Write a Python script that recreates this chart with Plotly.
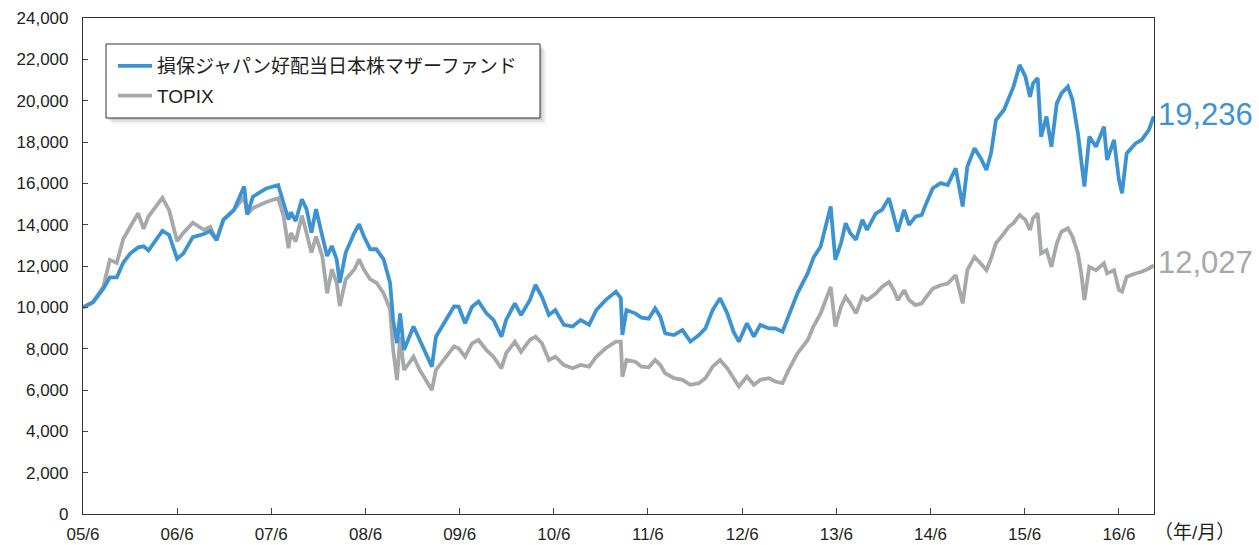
import plotly.graph_objects as go

dates = [
    "2005-06-01", "2005-07-10", "2005-08-19", "2005-09-13", "2005-10-10", "2005-11-04",
    "2005-12-01", "2006-01-01", "2006-01-22", "2006-02-10", "2006-04-05", "2006-05-01",
    "2006-06-01", "2006-06-25", "2006-08-01", "2006-09-13", "2006-10-07", "2006-11-01",
    "2006-11-28", "2007-01-07", "2007-02-16", "2007-02-28", "2007-03-22", "2007-05-13",
    "2007-06-28", "2007-07-19", "2007-08-07", "2007-08-16", "2007-09-04", "2007-09-28",
    "2007-10-16", "2007-11-04", "2007-11-22", "2007-12-16", "2008-01-04", "2008-01-22",
    "2008-02-10", "2008-02-22", "2008-03-16", "2008-04-19", "2008-05-07", "2008-05-25",
    "2008-06-19", "2008-07-13", "2008-08-10", "2008-09-04", "2008-09-16", "2008-10-01",
    "2008-10-13", "2008-10-28", "2008-11-16", "2008-12-04", "2008-12-28", "2009-02-07",
    "2009-02-13", "2009-03-01", "2009-04-10", "2009-05-10", "2009-05-28", "2009-06-22",
    "2009-07-19", "2009-08-13", "2009-09-13", "2009-10-10", "2009-11-10", "2009-11-28",
    "2010-01-01", "2010-01-25", "2010-02-28", "2010-03-22", "2010-04-16", "2010-05-13",
    "2010-06-07", "2010-07-10", "2010-08-13", "2010-09-13", "2010-10-16", "2010-11-13",
    "2010-12-19", "2011-01-28", "2011-02-16", "2011-02-22", "2011-03-10", "2011-04-13",
    "2011-05-07", "2011-06-04", "2011-06-29", "2011-07-19", "2011-08-07", "2011-09-10",
    "2011-10-13", "2011-11-13", "2011-12-16", "2012-01-10", "2012-02-07", "2012-03-07",
    "2012-04-04", "2012-04-28", "2012-05-19", "2012-06-19", "2012-07-16", "2012-08-10",
    "2012-09-13", "2012-10-07", "2012-11-04", "2012-11-28", "2013-01-01", "2013-02-10",
    "2013-03-04", "2013-04-01", "2013-04-19", "2013-05-10", "2013-05-28", "2013-06-19",
    "2013-07-07", "2013-07-25", "2013-08-16", "2013-09-10", "2013-09-28", "2013-11-01",
    "2013-11-25", "2013-12-22", "2014-01-10", "2014-01-25", "2014-02-19", "2014-03-10",
    "2014-04-04", "2014-04-28", "2014-05-16", "2014-06-10", "2014-07-10", "2014-08-07",
    "2014-09-07", "2014-10-04", "2014-10-22", "2014-11-19", "2014-12-13", "2015-01-04",
    "2015-01-22", "2015-02-10", "2015-03-13", "2015-04-01", "2015-04-19", "2015-05-13",
    "2015-06-04", "2015-06-22", "2015-07-04", "2015-07-22", "2015-08-04", "2015-08-25",
    "2015-09-13", "2015-10-04", "2015-10-22", "2015-11-16", "2015-12-04", "2015-12-25",
    "2016-01-07", "2016-01-19", "2016-02-07", "2016-03-04", "2016-04-04", "2016-04-16",
    "2016-05-13", "2016-06-01", "2016-06-13", "2016-07-01", "2016-08-04", "2016-08-28",
    "2016-09-25", "2016-10-14",
]

fund = [
    10000, 10250, 10900, 11450, 11450, 12160,
    12600, 12900, 12950, 12750, 13700, 13500,
    12350, 12600, 13400, 13550, 13700, 13250,
    14250, 14700, 15850, 14500, 15350, 15750,
    15920, 15050, 14250, 14600, 14180, 15230,
    14750, 13620, 14750, 13450, 12480, 12970,
    12320, 11190, 12650, 13620, 14020, 13450,
    12810, 12810, 12320, 11190, 9390, 8260,
    9710, 7940, 8580, 9070, 8420, 7290,
    7130, 8580, 9390, 10040, 10030, 9230,
    10030, 10280, 9710, 9390, 8580, 9390,
    10190, 9630, 10350, 11080, 10510, 9630,
    9870, 9150, 9070, 9390, 9150, 9870,
    10350, 10760, 10440, 8660, 9870, 9710,
    9500, 9450, 9950, 9550, 8740, 8660,
    8900, 8340, 8660, 8980, 9870, 10440,
    9710, 8820, 8340, 9230, 8580, 9150,
    8980, 8980, 8820, 9550, 10680, 11650,
    12400, 12940, 13910, 14880, 12300, 13100,
    14070, 13590, 13270, 14230, 13750, 14550,
    14720, 15280, 14390, 13670, 14720, 13990,
    14390, 14470, 15040, 15760, 16010, 15920,
    16730, 14880, 16810, 17700, 17220, 16650,
    17460, 19060, 19550, 20190, 20680, 21730,
    21170, 20190, 20840, 21090, 18260, 19230,
    17770, 19870, 20350, 20680, 20030, 18420,
    17130, 15840, 18260, 17770, 18740, 17130,
    18100, 16160, 15520, 17450, 17930, 18100,
    18580, 19236,
]

topix = [
    10000, 10250, 11000, 12300, 12150, 13300,
    13900, 14550, 13800, 14400, 15300, 14700,
    13200, 13600, 14100, 13750, 13900, 13250,
    14250, 14700, 15350, 14500, 14800, 15100,
    15280, 14400, 12860, 13600, 13180, 14440,
    13600, 12650, 13420, 12480, 10680, 11840,
    11190, 10060, 11350, 11840, 12320, 11840,
    11350, 11190, 10680, 9900, 7940, 6480,
    8580, 6970, 7290, 7610, 6970, 6160,
    6000, 6970, 7610, 8100, 8020, 7610,
    8260, 8420, 7930, 7610, 7050, 7770,
    8340, 7850, 8420, 8580, 8260, 7450,
    7610, 7210, 7050, 7210, 7130, 7610,
    8020, 8340, 8340, 6640, 7450, 7370,
    7130, 7100, 7450, 7210, 6810, 6570,
    6490, 6250, 6330, 6570, 7130, 7450,
    7050, 6570, 6170, 6650, 6250, 6490,
    6570, 6410, 6330, 6970, 7770, 8420,
    9070, 9710, 10350, 10990, 9070, 10030,
    10510, 10190, 9710, 10510, 10350, 10670,
    10990, 11230, 10830, 10350, 10830, 10350,
    10110, 10190, 10510, 10910, 11070, 11150,
    11560, 10190, 11800, 12440, 12120, 11800,
    12360, 13100, 13580, 13900, 14070, 14470,
    14230, 13740, 14310, 14550, 12610, 12770,
    11960, 13100, 13660, 13820, 13420, 12610,
    11640, 10350, 11960, 11800, 12130, 11640,
    11800, 10840, 10760, 11480, 11640, 11720,
    11880, 12027,
]

tick_dates = ["2005-06-01", "2006-06-01", "2007-06-01", "2008-06-01", "2009-06-01", "2010-06-01",
              "2011-06-01", "2012-06-01", "2013-06-01", "2014-06-01", "2015-06-01", "2016-06-01"]
tick_labels = ["05/6", "06/6", "07/6", "08/6", "09/6", "10/6", "11/6", "12/6", "13/6", "14/6", "15/6", "16/6"]

series_names = ["損保ジャパン好配当日本株マザーファンド", "TOPIX"]
end_labels = ["19,236", "12,027"]

BLUE = "#3d93d2"
GRAY = "#a7a8ac"
FONT = "Arial, 'Liberation Sans', 'Noto Sans CJK JP', sans-serif"

fig = go.Figure()
fig.add_trace(go.Scatter(x=dates, y=topix, mode="lines", name=series_names[1],
                         legendgroup="b", legendrank=2, line=dict(color=GRAY, width=3.8)))
fig.add_trace(go.Scatter(x=dates, y=fund, mode="lines", name=series_names[0],
                         legendgroup="a", legendrank=1, line=dict(color=BLUE, width=3.8)))

# plot area in pixels: x 83..1154, y 18..514
def px(x):
    return (x - 83) / 1071.0

def py(y):
    return (514 - y) / 496.0

shapes = []
# soft shadow of legend box
for off, col in [(6, "rgba(0,0,0,0.05)"), (4, "rgba(0,0,0,0.07)"), (2, "rgba(0,0,0,0.10)")]:
    shapes.append(dict(type="rect", xref="paper", yref="paper",
                       x0=px(106 + off), x1=px(540 + off), y0=py(118 + off), y1=py(44 + off),
                       line=dict(width=0), fillcolor=col, layer="below"))
shapes.append(dict(type="rect", xref="paper", yref="paper",
                   x0=px(106), x1=px(540), y0=py(118), y1=py(44),
                   line=dict(color="#333333", width=1), fillcolor="white", layer="below"))

fig.update_layout(
    width=1259, height=545,
    margin=dict(l=83, r=105, t=18, b=31),
    paper_bgcolor="white", plot_bgcolor="white",
    font=dict(family=FONT, size=17, color="#231f20"),
    showlegend=True,
    shapes=shapes,
    legend=dict(x=px(113), y=py(47), xanchor="left", yanchor="top",
                borderwidth=0, bgcolor="rgba(0,0,0,0)",
                traceorder="grouped",
                font=dict(size=19, color="#231f20"),
                itemwidth=34, tracegroupgap=2),
    xaxis=dict(range=["2005-06-01", "2016-10-15"], tickvals=tick_dates, ticktext=tick_labels,
               ticks="inside", ticklen=6, tickcolor="#444", showgrid=False, zeroline=False,
               showline=True, linecolor="#333333", linewidth=1.2, mirror=True,
               ticklabelstandoff=4, automargin=False,
               tickfont=dict(size=17, color="#231f20")),
    yaxis=dict(range=[0, 24000], dtick=2000, tickformat=",", ticks="inside", ticklen=5,
               tickcolor="#444", showgrid=False, zeroline=False,
               showline=True, linecolor="#333333", linewidth=1.2, mirror=True,
               ticklabelstandoff=10, automargin=False,
               tickfont=dict(size=17, color="#231f20")),
)

fig.add_annotation(x=1, xref="paper", y=fund[-1], yref="y", text=end_labels[0],
                   showarrow=False, xanchor="left", yanchor="middle", xshift=2, yshift=2,
                   font=dict(size=31, color=BLUE, family=FONT))
fig.add_annotation(x=1, xref="paper", y=topix[-1], yref="y", text=end_labels[1],
                   showarrow=False, xanchor="left", yanchor="middle", xshift=2, yshift=3,
                   font=dict(size=31, color=GRAY, family=FONT))
fig.add_annotation(x=1, xref="paper", y=0, yref="paper", text="（年/月）",
                   showarrow=False, xanchor="left", yanchor="top", xshift=-2, yshift=-6,
                   font=dict(size=19, color="#231f20", family=FONT))

fig.write_html("out.html")
